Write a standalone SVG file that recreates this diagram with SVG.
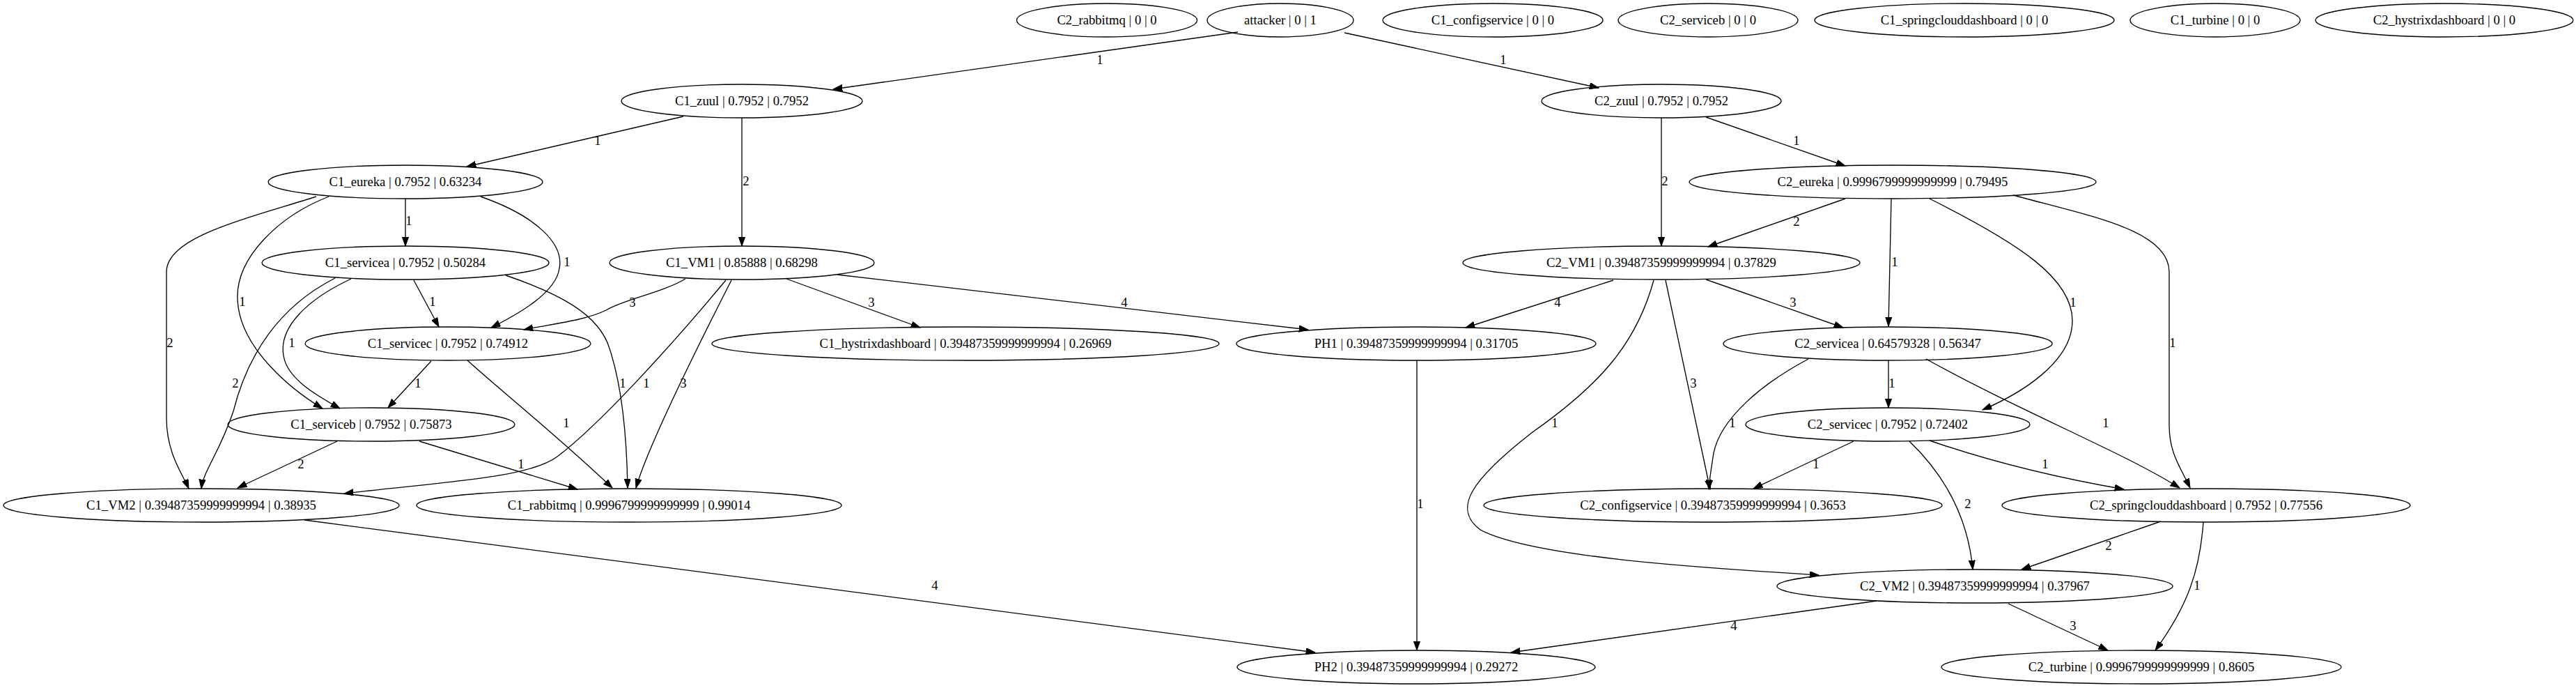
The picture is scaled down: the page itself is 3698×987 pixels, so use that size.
<svg xmlns="http://www.w3.org/2000/svg" width="3698" height="987" viewBox="0 0 3698 987">
<style>
.n ellipse{fill:none;stroke:#000;stroke-width:1.33}
text{font-family:"Liberation Serif","Times New Roman",serif;font-size:18.67px;fill:#000;text-anchor:middle}
.e path{fill:none;stroke:#000;stroke-width:1.33;marker-end:url(#ah)}
</style>
<defs>
<marker id="ah" markerUnits="userSpaceOnUse" markerWidth="14" markerHeight="10" refX="13.3" refY="4.67" orient="auto">
<path d="M0,0 L13.3,4.67 L0,9.33 z" fill="#000" stroke="#000" stroke-width="1"/>
</marker>
</defs>
<rect width="3698" height="987" fill="#fff"/>
<g id="edges" class="e">
<path d="M1777,46 L1196,128"/><text x="1579" y="92">1</text>
<path d="M1930,47 L2295,126"/><text x="2158" y="92">1</text>
<path d="M981,167 L670,239"/><text x="858" y="208">1</text>
<path d="M1065,169 L1065,353"/><text x="1071" y="266">2</text>
<path d="M2385,169 L2385,353"/><text x="2390" y="266">2</text>
<path d="M2449,168 L2649,238"/><text x="2579" y="208">1</text>
<path d="M582,285 L582,353"/><text x="587" y="323">1</text>
<path d="M690,282 C770,310 810,350 803,385 C798,420 745,450 705,470"/><text x="814" y="382">1</text>
<path d="M472,282 C400,310 338,370 341,430 C344,500 420,560 463,586"/><text x="348" y="439">1</text>
<path d="M454,282 C350,315 239,340 239,390 L239,600 C239,650 262,680 271,701"/><text x="244" y="498">2</text>
<path d="M594,402 L630,469"/><text x="621" y="439">1</text>
<path d="M504,400 C440,430 400,470 407,510 C412,545 460,570 488,586"/><text x="419" y="498">1</text>
<path d="M481,399 C400,440 355,510 335,590 C315,650 292,675 289,701"/><text x="338" y="556">2</text>
<path d="M726,395 C800,420 860,450 875,500 C895,560 900,640 901,700"/><text x="894" y="556">1</text>
<path d="M619,518 L557,585"/><text x="600" y="556">1</text>
<path d="M671,517 C730,570 800,625 879,700"/><text x="813" y="613">1</text>
<path d="M484,633 L341,700"/><text x="432" y="672">2</text>
<path d="M602,633 L829,702"/><text x="748" y="672">1</text>
<path d="M984,400 C950,420 895,430 870,445 C840,460 790,465 752,473"/><text x="908" y="440">3</text>
<path d="M1042,402 C960,500 860,610 800,655 C760,685 650,690 494,708"/><text x="928" y="556">1</text>
<path d="M1050,402 C1000,500 930,640 913,700"/><text x="981" y="556">3</text>
<path d="M1129,400 L1321,470"/><text x="1251" y="440">3</text>
<path d="M1202,394 L1878,473"/><text x="1614" y="440">4</text>
<path d="M437,746 L1888,936"/><text x="1342" y="846">4</text>
<path d="M2034,517 L2034,933"/><text x="2039" y="729">1</text>
<path d="M2649,285 L2452,354"/><text x="2579" y="324">2</text>
<path d="M2715,285 L2711,468"/><text x="2720" y="382">1</text>
<path d="M2770,285 C2900,350 2975,400 2975,460 C2975,520 2900,565 2846,588"/><text x="2976" y="440">1</text>
<path d="M2890,280 C3000,310 3114,330 3114,390 L3114,610 C3114,650 3130,670 3144,700"/><text x="3119" y="498">1</text>
<path d="M2316,402 L2104,470"/><text x="2236" y="440">4</text>
<path d="M2449,401 L2646,470"/><text x="2574" y="440">3</text>
<path d="M2391,402 L2455,702"/><text x="2431" y="556">3</text>
<path d="M2374,402 C2350,490 2300,550 2200,620 C2110,690 2085,730 2125,760 C2200,800 2450,815 2611,825"/><text x="2232" y="613">1</text>
<path d="M2711,517 L2711,585"/><text x="2716" y="556">1</text>
<path d="M2596,515 C2530,550 2470,600 2460,650 C2456,675 2454,690 2453,702"/><text x="2487" y="613">1</text>
<path d="M2765,515 C2900,590 3050,650 3129,700"/><text x="3023" y="613">1</text>
<path d="M2661,633 L2517,701"/><text x="2607" y="672">1</text>
<path d="M2770,632 C2880,670 2980,690 3049,702"/><text x="2936" y="672">1</text>
<path d="M2741,633 C2790,680 2825,740 2832,817"/><text x="2825" y="729">2</text>
<path d="M3102,748 L2902,817"/><text x="3027" y="789">2</text>
<path d="M3163,749 C3158,820 3140,870 3094,933"/><text x="3154" y="846">1</text>
<path d="M2694,862 L2169,936"/><text x="2489" y="904">4</text>
<path d="M2883,866 L3026,933"/><text x="2976" y="904">3</text>
</g>
<g id="C2_rabbitmq" class="n"><ellipse cx="1589" cy="29" rx="129.5" ry="24"/><text x="1589" y="35">C2_rabbitmq | 0 | 0</text></g>
<g id="attacker" class="n"><ellipse cx="1838" cy="29" rx="105" ry="24"/><text x="1838" y="35">attacker | 0 | 1</text></g>
<g id="C1_configservice" class="n"><ellipse cx="2143" cy="29" rx="158" ry="24"/><text x="2143" y="35">C1_configservice | 0 | 0</text></g>
<g id="C2_serviceb" class="n"><ellipse cx="2452" cy="29" rx="129" ry="24"/><text x="2452" y="35">C2_serviceb | 0 | 0</text></g>
<g id="C1_springclouddashboard" class="n"><ellipse cx="2820" cy="29" rx="215" ry="24"/><text x="2820" y="35">C1_springclouddashboard | 0 | 0</text></g>
<g id="C1_turbine" class="n"><ellipse cx="3180" cy="29" rx="122" ry="24"/><text x="3180" y="35">C1_turbine | 0 | 0</text></g>
<g id="C2_hystrixdashboard" class="n"><ellipse cx="3509" cy="29" rx="185" ry="24"/><text x="3509" y="35">C2_hystrixdashboard | 0 | 0</text></g>
<g id="C1_zuul" class="n"><ellipse cx="1065" cy="145" rx="173" ry="24"/><text x="1065" y="151">C1_zuul | 0.7952 | 0.7952</text></g>
<g id="C2_zuul" class="n"><ellipse cx="2385" cy="145" rx="172" ry="24"/><text x="2385" y="151">C2_zuul | 0.7952 | 0.7952</text></g>
<g id="C1_eureka" class="n"><ellipse cx="582" cy="261" rx="197" ry="24"/><text x="582" y="267">C1_eureka | 0.7952 | 0.63234</text></g>
<g id="C2_eureka" class="n"><ellipse cx="2717" cy="261" rx="292" ry="24"/><text x="2717" y="267">C2_eureka | 0.9996799999999999 | 0.79495</text></g>
<g id="C1_servicea" class="n"><ellipse cx="582" cy="377" rx="206" ry="24"/><text x="582" y="383">C1_servicea | 0.7952 | 0.50284</text></g>
<g id="C1_VM1" class="n"><ellipse cx="1065" cy="377" rx="190" ry="24"/><text x="1065" y="383">C1_VM1 | 0.85888 | 0.68298</text></g>
<g id="C2_VM1" class="n"><ellipse cx="2385" cy="377" rx="285" ry="24"/><text x="2385" y="383">C2_VM1 | 0.39487359999999994 | 0.37829</text></g>
<g id="C1_servicec" class="n"><ellipse cx="643" cy="493" rx="205" ry="24"/><text x="643" y="499">C1_servicec | 0.7952 | 0.74912</text></g>
<g id="C1_hystrixdashboard" class="n"><ellipse cx="1386" cy="493" rx="364" ry="24"/><text x="1386" y="499">C1_hystrixdashboard | 0.39487359999999994 | 0.26969</text></g>
<g id="PH1" class="n"><ellipse cx="2033" cy="493" rx="258" ry="24"/><text x="2033" y="499">PH1 | 0.39487359999999994 | 0.31705</text></g>
<g id="C2_servicea" class="n"><ellipse cx="2710" cy="493" rx="236" ry="24"/><text x="2710" y="499">C2_servicea | 0.64579328 | 0.56347</text></g>
<g id="C1_serviceb" class="n"><ellipse cx="533" cy="609" rx="206" ry="24"/><text x="533" y="615">C1_serviceb | 0.7952 | 0.75873</text></g>
<g id="C2_servicec" class="n"><ellipse cx="2710" cy="609" rx="204" ry="24"/><text x="2710" y="615">C2_servicec | 0.7952 | 0.72402</text></g>
<g id="C1_VM2" class="n"><ellipse cx="289" cy="725" rx="284" ry="24"/><text x="289" y="731">C1_VM2 | 0.39487359999999994 | 0.38935</text></g>
<g id="C1_rabbitmq" class="n"><ellipse cx="903" cy="725" rx="305" ry="24"/><text x="903" y="731">C1_rabbitmq | 0.9996799999999999 | 0.99014</text></g>
<g id="C2_configservice" class="n"><ellipse cx="2459" cy="725" rx="329" ry="24"/><text x="2459" y="731">C2_configservice | 0.39487359999999994 | 0.3653</text></g>
<g id="C2_springclouddashboard" class="n"><ellipse cx="3167" cy="725" rx="293" ry="24"/><text x="3167" y="731">C2_springclouddashboard | 0.7952 | 0.77556</text></g>
<g id="C2_VM2" class="n"><ellipse cx="2835" cy="841" rx="284" ry="24"/><text x="2835" y="847">C2_VM2 | 0.39487359999999994 | 0.37967</text></g>
<g id="PH2" class="n"><ellipse cx="2033" cy="957" rx="257" ry="24"/><text x="2033" y="963">PH2 | 0.39487359999999994 | 0.29272</text></g>
<g id="C2_turbine" class="n"><ellipse cx="3074" cy="957" rx="287" ry="24"/><text x="3074" y="963">C2_turbine | 0.9996799999999999 | 0.8605</text></g>
</svg>
